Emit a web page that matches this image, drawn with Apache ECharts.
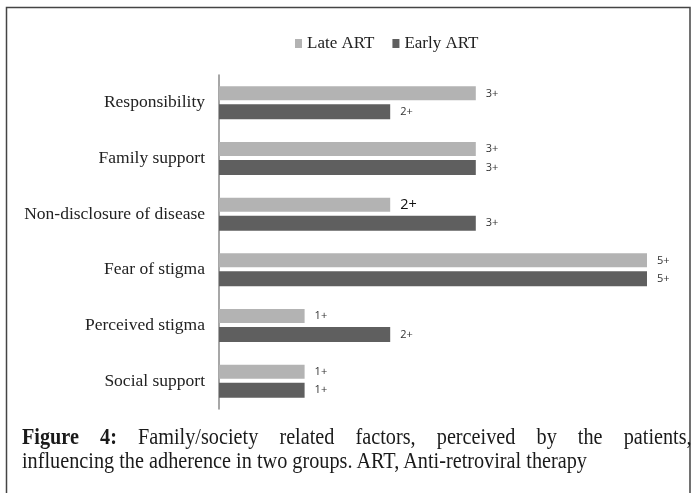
<!DOCTYPE html>
<html>
<head>
<meta charset="utf-8">
<script src="https://cdn.jsdelivr.net/npm/echarts@6/dist/echarts.min.js"></script>
<style>
  body { margin: 0; background: #fff; }
  #wrap { position: relative; width: 695px; height: 493px; }
  #chart { width: 695px; height: 493px; }
  .cap { position: absolute; left: 22px; font-family: 'Liberation Serif', 'Times New Roman', serif; font-size: 23px; color: #1a1a1a; white-space: nowrap; transform: scaleX(0.88); transform-origin: 0 0; }
  #cap1 { top: 424px; width: 761px; text-align: justify; text-align-last: justify; }
  #cap2 { top: 448px; }
</style>
</head>
<body>
<div id="wrap">
  <div id="chart"></div>
  <div class="cap" id="cap1"><b>Figure 4:</b> Family/society related factors, perceived by the patients,</div>
  <div class="cap" id="cap2">influencing the adherence in two groups. ART, Anti-retroviral therapy</div>
</div>
<script type="text/javascript">
    var categories = ['Responsibility', 'Family support', 'Non-disclosure of disease', 'Fear of stigma', 'Perceived stigma', 'Social support'];
    var lateArt = [3, 3, 2, 5, 1, 1];
    var earlyArt = [2, 3, 3, 5, 2, 1];

    var chart = echarts.init(document.getElementById('chart'));
    var serif = "'Liberation Serif', 'Times New Roman', serif";

    // the "2+" beside Non-disclosure is printed bigger in the original
    var lateData = lateArt.map(function (v, i) {
        if (i === 2) return { value: v, label: { fontSize: 14.5, color: '#111' } };
        return v;
    });

    var barLabel = {
        show: true,
        position: 'right',
        distance: 10,
        formatter: '{c}+',
        fontFamily: 'Open Sans',
        fontSize: 11,
        color: '#333'
    };

    var option = {
        backgroundColor: '#fff',
        animation: false,
        legend: {
            top: 30,
            left: 290,
            icon: 'rect',
            itemWidth: 7,
            itemHeight: 9,
            itemGap: 18,
            textStyle: { fontFamily: serif, fontSize: 17, color: '#222' },
            data: ['Late ART', 'Early ART']
        },
        grid: { left: 219, right: 48, top: 75, bottom: 84, containLabel: false },
        xAxis: {
            type: 'value',
            min: 0,
            max: 5,
            show: false
        },
        yAxis: {
            type: 'category',
            inverse: true,
            data: categories,
            axisLine: { lineStyle: { color: '#8a8a8a', width: 1.5 } },
            axisTick: { show: false },
            axisLabel: { fontFamily: serif, fontSize: 17.5, color: '#222', margin: 14 }
        },
        series: [
            {
                name: 'Late ART',
                type: 'bar',
                data: lateData,
                barWidth: 14,
                barGap: '28%',
                itemStyle: { color: '#b3b3b3' },
                label: barLabel
            },
            {
                name: 'Early ART',
                type: 'bar',
                data: earlyArt,
                barWidth: 15,
                itemStyle: { color: '#5f5f5f' },
                label: barLabel
            }
        ],
        graphic: [
            {
                type: 'rect',
                silent: true,
                shape: { x: 6.5, y: 7.5, width: 683.5, height: 500 },
                style: { fill: 'none', stroke: '#444', lineWidth: 1.5 }
            }
        ]
    };

    chart.setOption(option);
</script>
</body>
</html>
